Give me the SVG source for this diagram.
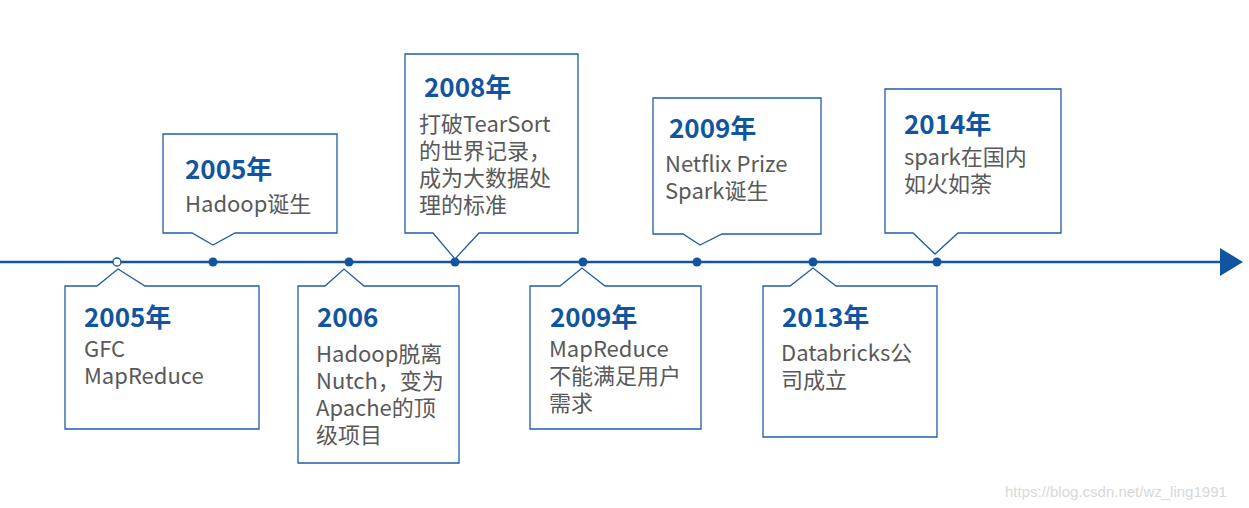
<svg xmlns="http://www.w3.org/2000/svg" width="1249" height="508" viewBox="0 0 1249 508">
<style>
.box{fill:#fff;stroke:#1f5ea8;stroke-width:1.3}
.t{font-family:"Noto Sans CJK SC","Noto Sans",sans-serif;font-weight:bold;font-size:26px;fill:#1155a0}
.b{font-family:"Noto Sans CJK SC","Noto Sans",sans-serif;font-size:22px;fill:#595959}
.dot{fill:#1155a0}
</style>
<rect width="1249" height="508" fill="#fff"/>
<g id="connectors">
<line x1="0" y1="262" x2="1222" y2="262" stroke="#1155a0" stroke-width="2.5"/>
<polygon points="1220,248 1243,262 1220,276" fill="#1155a0"/>
<circle cx="117" cy="262" r="4" fill="#fff" stroke="#1155a0" stroke-width="1.3"/>
<circle class="dot" cx="213" cy="262" r="4.5"/>
<circle class="dot" cx="349" cy="262" r="4.5"/>
<circle class="dot" cx="455" cy="262" r="4.5"/>
<circle class="dot" cx="583" cy="262" r="4.5"/>
<circle class="dot" cx="697" cy="262" r="4.5"/>
<circle class="dot" cx="813" cy="262" r="4.5"/>
<circle class="dot" cx="937" cy="262" r="4.5"/>
</g>
<g id="n2005a"><path class="box" d="M163,134H337V233H235L213,245L192,233H163Z"/>
<text class="t" x="185" y="179">2005年</text><text class="b" x="185" y="212">Hadoop诞生</text></g>
<g id="n2008"><path class="box" d="M405,54H578V233H479L455,259L433,233H405Z"/>
<text class="t" x="424" y="97">2008年</text>
<text class="b" x="419" y="132">打破TearSort</text><text class="b" x="419" y="159">的世界记录，</text><text class="b" x="419" y="186">成为大数据处</text><text class="b" x="419" y="213">理的标准</text></g>
<g id="n2009a"><path class="box" d="M653,98H821V234H722L700,245L683,234H653Z"/>
<text class="t" x="669" y="138">2009年</text><text class="b" x="665" y="172">Netflix Prize</text><text class="b" x="665" y="199">Spark诞生</text></g>
<g id="n2014"><path class="box" d="M885,89H1061V233H958L935,254L913,233H885Z"/>
<text class="t" x="904" y="134">2014年</text><text class="b" x="904" y="165">spark在国内</text><text class="b" x="904" y="192">如火如荼</text></g>
<g id="n2005b"><path class="box" d="M65,286H97L118,269L145,286H259V429H65Z"/>
<text class="t" x="84" y="327">2005年</text><text class="b" x="84" y="357">GFC</text><text class="b" x="84" y="384">MapReduce</text></g>
<g id="n2006"><path class="box" d="M298,286H325L344,269L364,286H459V463H298Z"/>
<text class="t" x="317" y="327">2006</text><text class="b" x="316" y="362">Hadoop脱离</text><text class="b" x="316" y="389">Nutch，变为</text><text class="b" x="316" y="416">Apache的顶</text><text class="b" x="316" y="443">级项目</text></g>
<g id="n2009b"><path class="box" d="M530,286H560L582,268L605,286H701V429H530Z"/>
<text class="t" x="550" y="327">2009年</text><text class="b" x="549" y="357">MapReduce</text><text class="b" x="549" y="384">不能满足用户</text><text class="b" x="549" y="411">需求</text></g>
<g id="n2013"><path class="box" d="M763,286H790L813,268L836,286H937V437H763Z"/>
<text class="t" x="782" y="327">2013年</text><text class="b" x="781" y="361">Databricks公</text><text class="b" x="781" y="388">司成立</text></g>
<text x="1005" y="497" font-family="Liberation Sans,sans-serif" font-size="15" fill="#d8d8d8">https://blog.csdn.net/wz_ling1991</text>
</svg>
